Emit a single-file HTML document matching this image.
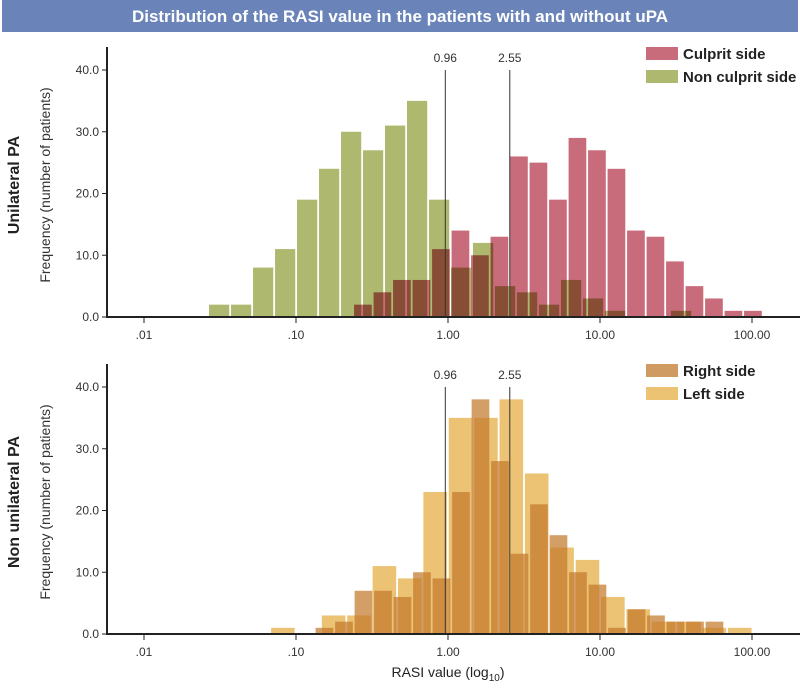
<!DOCTYPE html>
<html><head><meta charset="utf-8">
<style>
body{margin:0;background:#fff;}
svg text{font-family:"Liberation Sans Narrow","Liberation Sans",sans-serif;}
</style></head>
<body>
<svg id="chart" width="800" height="687" viewBox="0 0 800 687" xmlns="http://www.w3.org/2000/svg">
  <rect x="2" y="0" width="796" height="32" fill="#6a84ba"/>
  <text x="400" y="22" text-anchor="middle" fill="#fff" font-size="17" font-weight="bold">Distribution of the RASI value in the patients with and without uPA</text>
  <g id="top"></g>
  <g id="bot"></g>
  <text x="448" y="677" text-anchor="middle" font-size="14" fill="#222">RASI value (log<tspan font-size="10" dy="4">10</tspan><tspan dy="-4">)</tspan></text>
</svg>
<script>
// Unilateral PA: culprit side (log10 bin start, bin width, counts)
const culpritStart = -0.618, culpritWidth = 0.1283;
const culpritCounts = [2,4,6,6,11,14,10,13,26,25,19,29,27,24,14,13,9,5,3,1,1];
const nonCulpritStart = -1.572, nonCulpritWidth = 0.1447;
const nonCulpritCounts = [2,2,8,11,19,24,30,27,31,35,19,8,12,5,4,2,6,3,1,0,0,1];
// Non unilateral PA
const rightStart = -0.871, rightWidth = 0.1283;
const rightCounts = [1,2,7,7,6,10,9,23,38,28,13,21,16,10,8,1,4,3,2,2,2];
const leftStart = -1.164, leftWidth = 0.167;
const leftCounts = [1,0,3,3,11,9,23,35,35,38,26,14,12,6,4,2,2,1,1];
const xTicks = [0.01,0.1,1,10,100];
const xTickLabels = [".01",".10","1.00","10.00","100.00"];
const yTicks = [0,10,20,30,40];
const yTickLabels = ["0.0","10.0","20.0","30.0","40.0"];
const cutoffs = [0.96,2.55];
const cutoffLabels = ["0.96","2.55"];

const NS="http://www.w3.org/2000/svg";
function mk(parent,tag,attrs){const e=document.createElementNS(NS,tag);for(const k in attrs)e.setAttribute(k,attrs[k]);parent.appendChild(e);return e;}
function xLog(l){return 448+152*l;}
function xVal(v){return xLog(Math.log10(v));}

function panel(g,y0,series,legend,title){
  const yS=v=>y0-v*6.175;
  // bars
  series.forEach(s=>{
    const sg=mk(g,'g',{});
    
    
    if(s.blend) sg.setAttribute('style','mix-blend-mode:multiply');
    s.counts.forEach((c,i)=>{
      if(!c)return;
      const xa=xLog(s.start+i*s.width), xb=xLog(s.start+(i+1)*s.width)-1.8;
      const r=mk(sg,'rect',{x:xa,y:yS(c),width:xb-xa,height:y0-yS(c),fill:s.color,'fill-opacity':s.op});
      
      
    });
  });
  // axes
  const ya=mk(g,'line',{x1:107,y1:y0-270,x2:107,y2:y0+1,stroke:'#222','stroke-width':2});
  
  
  const xa=mk(g,'line',{x1:106,y1:y0,x2:800,y2:y0,stroke:'#222','stroke-width':2});
  
  
  yTicks.forEach((t,i)=>{
    mk(g,'line',{x1:102,y1:yS(t),x2:107,y2:yS(t),stroke:'#222','stroke-width':1});
    const tx=mk(g,'text',{x:99,y:yS(t)+4,'text-anchor':'end','font-size':12,fill:'#333'});
    tx.textContent=yTickLabels[i];
    
    
  });
  xTicks.forEach((t,i)=>{
    mk(g,'line',{x1:xVal(t),y1:y0,x2:xVal(t),y2:y0+6,stroke:'#222','stroke-width':1});
    const tx=mk(g,'text',{x:xVal(t),y:y0+22,'text-anchor':'middle','font-size':12,fill:'#333'});
    tx.textContent=xTickLabels[i];
    
    
  });
  cutoffs.forEach((c,i)=>{
    const l=mk(g,'line',{x1:xVal(c),y1:y0-247,x2:xVal(c),y2:y0,stroke:'#333','stroke-width':1});
    
    
    const tx=mk(g,'text',{x:xVal(c),y:y0-255,'text-anchor':'middle','font-size':12,fill:'#333'});
    tx.textContent=cutoffLabels[i];
    
    
  });
  legend.forEach((L,i)=>{
    const yy=y0-270+i*23;
    const r=mk(g,'rect',{x:646,y:yy,width:32,height:13,fill:L.color});
    
    
    const tx=mk(g,'text',{x:683,y:yy+12,'font-size':15,'font-weight':'bold',fill:'#222'});
    tx.textContent=L.label;
    
    
  });
  const cy=y0-132;
  const t1=mk(g,'text',{x:0,y:0,'text-anchor':'middle','font-size':16,'font-weight':'bold',fill:'#222',transform:`translate(19,${cy}) rotate(-90)`});
  t1.textContent=title;
  
  
  const t2=mk(g,'text',{x:0,y:0,'text-anchor':'middle','font-size':14,fill:'#333',transform:`translate(50,${cy}) rotate(-90)`});
  t2.textContent='Frequency (number of patients)';
  
  
}
panel(document.getElementById('top'),317,[
  {name:'non-culprit',start:nonCulpritStart,width:nonCulpritWidth,counts:nonCulpritCounts,color:'#aeb96f',op:1},
  {name:'culprit',start:culpritStart,width:culpritWidth,counts:culpritCounts,color:'#c86b7a',op:1,blend:true}
],[{label:'Culprit side',color:'#c86b7a'},{label:'Non culprit side',color:'#aeb96f'}],'Unilateral PA');
panel(document.getElementById('bot'),634,[
  {name:'left-side',start:leftStart,width:leftWidth,counts:leftCounts,color:'#e6af46',op:0.75},
  {name:'right-side',start:rightStart,width:rightWidth,counts:rightCounts,color:'#c3782d',op:0.72}
],[{label:'Right side',color:'#d09a63'},{label:'Left side',color:'#ecc373'}],'Non unilateral PA');
</script>
</body></html>
